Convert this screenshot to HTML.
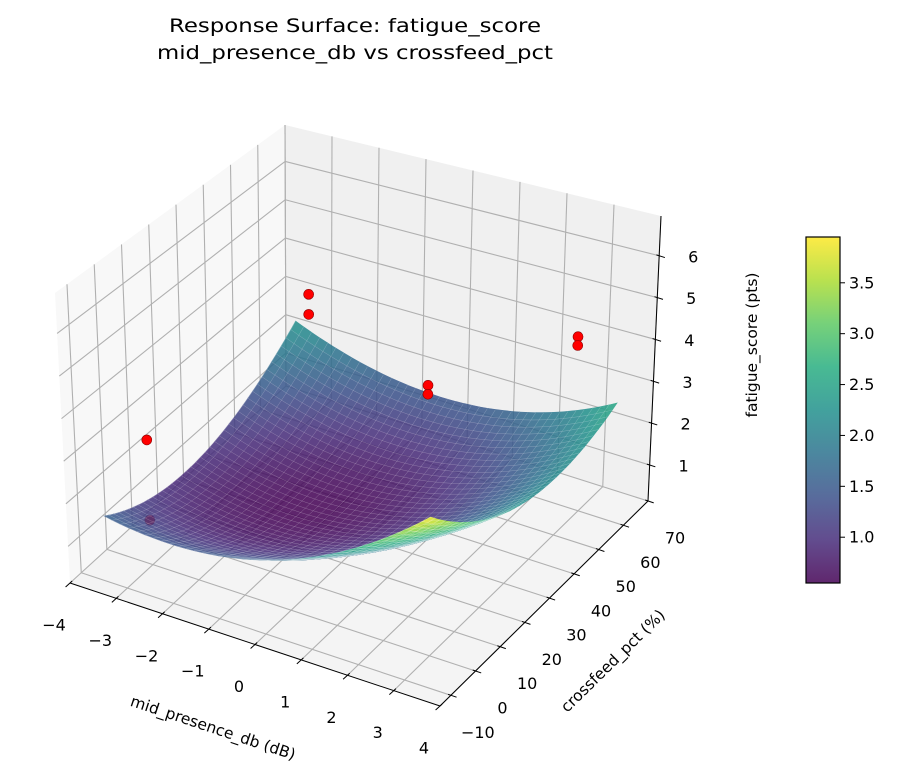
<!DOCTYPE html>
<html><head><meta charset="utf-8">
<style>
html,body{margin:0;padding:0;background:#fff;}
svg{display:block;font-family:"DejaVu Sans","Liberation Sans",sans-serif;}
</style></head>
<body>
<svg id="chart" width="902" height="775" viewBox="0 0 902 775" xmlns="http://www.w3.org/2000/svg">
  <rect width="902" height="775" fill="#ffffff"/>
  <text x="355" y="32" font-size="19" text-anchor="middle" textLength="372" lengthAdjust="spacingAndGlyphs">Response Surface: fatigue_score</text>
  <text x="355" y="59" font-size="19" text-anchor="middle" textLength="396" lengthAdjust="spacingAndGlyphs">mid_presence_db vs crossfeed_pct</text>
  <g id="panes"></g>
  <g id="grid"></g>
  <g id="pointsBehind"></g>
  <g id="surface" opacity="0.85"></g>
  <g id="pointsFront"></g>
  <g id="axes"></g>
  <text x="213" y="733" font-size="15.5" text-anchor="middle" transform="rotate(18.4 213 728)">mid_presence_db (dB)</text>
  <text x="613" y="666" font-size="15.5" text-anchor="middle" transform="rotate(-44.5 613 661)">crossfeed_pct (%)</text>
  <text x="752" y="350" font-size="15.5" text-anchor="middle" transform="rotate(-90 752 345)">fatigue_score (pts)</text>
  <g id="colorbar"></g>
</svg>
<script>
// ---- data ----
const xTicks = [-4,-3,-2,-1,0,1,2,3,4];
const yTicks = [-10,0,10,20,30,40,50,60,70];
const zTicks = [1,2,3,4,5,6];
const cbTicks = [1.0,1.5,2.0,2.5,3.0,3.5];
const ptX = [-2.8,-2.8,-2.9,-2.9,0,0,2.9,2.9];
const ptY = [-4,-4,59.5,59.5,54,54,59.5,59.5];
const ptZ = [3.37,1.48,3.50,2.99,2.50,2.28,4.30,4.09];
// fitted quadratic response-surface coefficients: [a, b(u), c(v), d(u^2), e(v^2), g(uv)]
const surfaceCoef = [0.66,0.65,-0.15,0.97,0.97,-0.5];
const surfXRange = [-3.5,3.5];
const surfYRange = [-9,65];
const cbRange = [0.55,3.95];

// ---- projection (box corners fitted to view) ----
const X0=-4,X1=4,Y0=-14.4,Y1=70,Z0=0.14,Z1=6.95;
const bA=[70,583],bB=[440,706],bD=[286,386],bC=[648,501];
const tA=[55,293],tB=[441,399],tD=[285,125],tC=[661,216];
function bil(p00,p10,p01,p11,u,v){
  return [p00[0]*(1-u)*(1-v)+p10[0]*u*(1-v)+p01[0]*(1-u)*v+p11[0]*u*v,
          p00[1]*(1-u)*(1-v)+p10[1]*u*(1-v)+p01[1]*(1-u)*v+p11[1]*u*v];
}
function proj(x,y,z){
  const u=(x-X0)/(X1-X0),v=(y-Y0)/(Y1-Y0),w=(z-Z0)/(Z1-Z0);
  const b=bil(bA,bB,bD,bC,u,v),t=bil(tA,tB,tD,tC,u,v);
  return [b[0]*(1-w)+t[0]*w,b[1]*(1-w)+t[1]*w];
}
function near(x,y,z){
  const u=(x-X0)/(X1-X0),v=(y-Y0)/(Y1-Y0),w=(z-Z0)/(Z1-Z0);
  return 0.433*u-0.75*v+0.375*w;
}
function surfZ(x,y){
  const c=surfaceCoef;
  const u=(x-(surfXRange[0]+surfXRange[1])/2)/((surfXRange[1]-surfXRange[0])/2);
  const v=(y-(surfYRange[0]+surfYRange[1])/2)/((surfYRange[1]-surfYRange[0])/2);
  return c[0]+c[1]*u+c[2]*v+c[3]*u*u+c[4]*v*v+c[5]*u*v;
}
const vir=[[68,1,84],[71,45,123],[59,82,139],[44,114,142],[33,145,140],[40,174,128],[94,201,98],[173,220,48],[253,231,37]];
function viridis(t){
  t=Math.max(0,Math.min(1,t));const s=t*8,i=Math.min(7,Math.floor(s)),f=s-i;
  const a=vir[i],b=vir[i+1];
  return 'rgb('+[0,1,2].map(k=>Math.round(a[k]+(b[k]-a[k])*f)).join(',')+')';
}
const NS='http://www.w3.org/2000/svg';
function mk(tag,attrs,parent){const e=document.createElementNS(NS,tag);for(const k in attrs)e.setAttribute(k,attrs[k]);parent.appendChild(e);return e;}
const pts=a=>a.map(p=>p[0].toFixed(1)+','+p[1].toFixed(1)).join(' ');

// panes
const gP=document.getElementById('panes');
let e;
e=mk('polygon',{points:pts([proj(X0,Y0,Z0),proj(X0,Y1,Z0),proj(X0,Y1,Z1),proj(X0,Y0,Z1)]),fill:'#f8f8f8'},gP);


e=mk('polygon',{points:pts([proj(X0,Y1,Z0),proj(X1,Y1,Z0),proj(X1,Y1,Z1),proj(X0,Y1,Z1)]),fill:'#f0f0f0'},gP);


e=mk('polygon',{points:pts([proj(X0,Y0,Z0),proj(X1,Y0,Z0),proj(X1,Y1,Z0),proj(X0,Y1,Z0)]),fill:'#f4f4f4'},gP);



// grid
const gG=document.getElementById('grid');
function gl(p,q,name){const l=mk('line',{x1:p[0],y1:p[1],x2:q[0],y2:q[1],stroke:'#b0b0b0','stroke-width':1.1},gG);

}
xTicks.forEach(x=>{gl(proj(x,Y0,Z0),proj(x,Y1,Z0),'floor-grid-x');gl(proj(x,Y1,Z0),proj(x,Y1,Z1),'back-grid-x');});
yTicks.forEach(y=>{gl(proj(X0,y,Z0),proj(X1,y,Z0),'floor-grid-y');gl(proj(X0,y,Z0),proj(X0,y,Z1),'side-grid-y');});
zTicks.forEach(z=>{gl(proj(X0,Y0,z),proj(X0,Y1,z),'side-grid-z');gl(proj(X0,Y1,z),proj(X1,Y1,z),'back-grid-z');});

// surface
const gS=document.getElementById('surface');
const N=40,quads=[];
for(let i=0;i<N;i++)for(let j=0;j<N;j++){
  const xa=surfXRange[0]+(surfXRange[1]-surfXRange[0])*i/N,xb=surfXRange[0]+(surfXRange[1]-surfXRange[0])*(i+1)/N;
  const ya=surfYRange[0]+(surfYRange[1]-surfYRange[0])*j/N,yb=surfYRange[0]+(surfYRange[1]-surfYRange[0])*(j+1)/N;
  const c=[[xa,ya],[xb,ya],[xb,yb],[xa,yb]].map(p=>[p[0],p[1],surfZ(p[0],p[1])]);
  const zm=(c[0][2]+c[1][2]+c[2][2]+c[3][2])/4;
  quads.push({c,zm,d:near((xa+xb)/2,(ya+yb)/2,zm)});
}
quads.sort((a,b)=>a.d-b.d);
quads.forEach(q=>{
  const col=viridis((q.zm-cbRange[0])/(cbRange[1]-cbRange[0]));
  const p=mk('polygon',{points:pts(q.c.map(c=>proj(c[0],c[1],c[2]))),fill:col,stroke:col,'stroke-width':0.6},gS);
  
  
});
// light mesh lines
quads.forEach(q=>{
  const p=mk('polyline',{points:pts([q.c[3],q.c[0],q.c[1]].map(c=>proj(c[0],c[1],c[2]))),fill:'none',stroke:'rgba(255,255,255,0.3)','stroke-width':0.5},gS);
  
  
});

// scatter
const gB=document.getElementById('pointsBehind'),gF=document.getElementById('pointsFront');
ptX.forEach((x,i)=>{
  const p=proj(x,ptY[i],ptZ[i]);
  const behind=ptZ[i]<surfZ(x,ptY[i])+0.3;
  const c=mk('circle',{cx:p[0],cy:p[1],r:5,fill:'#ff0000',stroke:'#8b0000','stroke-width':0.6},behind?gB:gF);
  
  
});

// axes
const gA=document.getElementById('axes');
function al(p,q,name,w){const l=mk('line',{x1:p[0],y1:p[1],x2:q[0],y2:q[1],stroke:'#000','stroke-width':w||1},gA);

}
function tx(x,y,s,name,anchor){const t=mk('text',{x:x,y:y,'font-size':16,'text-anchor':anchor||'middle','dominant-baseline':'central'},gA);t.textContent=s;

}
const fmt=v=>(v<0?'\u2212':'')+Math.abs(v);
al(proj(X0,Y0,Z0),proj(X1,Y0,Z0),'x-axis-line');
al(proj(X1,Y0,Z0),proj(X1,Y1,Z0),'y-axis-line');
al(proj(X1,Y1,Z0),proj(X1,Y1,Z1),'z-axis-line');
xTicks.forEach(x=>{const p=proj(x,Y0,Z0);al([p[0]+2.2,p[1]-2],[p[0]-4.4,p[1]+4],'x-tick');tx(p[0]-16,p[1]+42,fmt(x),'x-tick-label');});
yTicks.forEach(y=>{const p=proj(X1,y,Z0);al([p[0]-2.8,p[1]-1],[p[0]+5.7,p[1]+1.9],'y-tick');tx(p[0]+27,p[1]+37,fmt(y),'y-tick-label');});
zTicks.forEach(z=>{const p=proj(X1,Y1,z);al([p[0]-2.8,p[1]-0.9],[p[0]+5.7,p[1]+1.8],'z-tick');tx(p[0]+34,p[1]+1,fmt(z),'z-tick-label');});

// colorbar
const gC=document.getElementById('colorbar');
const cbX=806,cbTop=237,cbBot=583,cbW=34;
const defs=mk('defs',{},gC);
const lg=mk('linearGradient',{id:'vg',x1:0,y1:1,x2:0,y2:0},defs);
vir.forEach((c,i)=>mk('stop',{offset:i/8,'stop-color':'rgb('+c.join(',')+')'},lg));
e=mk('rect',{x:cbX,y:cbTop,width:cbW,height:cbBot-cbTop,fill:'url(#vg)',opacity:0.85},gC);


e=mk('rect',{x:cbX,y:cbTop,width:cbW,height:cbBot-cbTop,fill:'none',stroke:'#000','stroke-width':1.2},gC);


cbTicks.forEach(v=>{
  const y=cbBot-(v-cbRange[0])/(cbRange[1]-cbRange[0])*(cbBot-cbTop);
  const l=mk('line',{x1:cbX+cbW,y1:y,x2:cbX+cbW+5,y2:y,stroke:'#000','stroke-width':1},gC);
  
  
  const t=mk('text',{x:cbX+cbW+9,y:y,'font-size':16,'dominant-baseline':'central'},gC);
  t.textContent=v.toFixed(1);
  
  
});
</script>
</body></html>
